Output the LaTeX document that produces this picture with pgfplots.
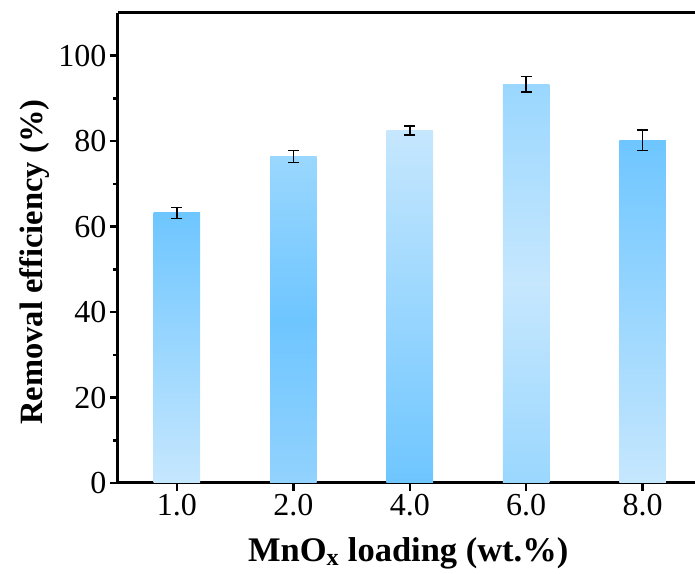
\documentclass[border=0pt]{standalone}
\usepackage{fontspec}
\setmainfont{Liberation Serif}
\usepackage{pgfplots}
\pgfplotsset{compat=1.18}
\definecolor{cdark}{HTML}{6EC6FF}
\definecolor{clight}{HTML}{C6E7FE}
\definecolor{cmed}{HTML}{9AD7FE}
\definecolor{cmed2}{HTML}{92D2FE}
\begin{document}
\begin{tikzpicture}
\begin{axis}[
  scale only axis,
  width=577pt, height=470pt,
  xmin=-0.506, xmax=4.45,
  ymin=0, ymax=110,
  axis x line*=bottom, axis y line*=left,
  axis line style={-, line width=3pt},
  xtick={0,1,2,3,4},
  xticklabels={1.0,2.0,4.0,6.0,8.0},
  ytick={0,20,40,60,80,100},
  minor y tick num=1,
  tick align=outside,
  major tick length=8pt, minor tick length=5pt,
  tick style={line width=2.5pt, black},
  /pgf/number format/assume math mode=true,
  tick label style={font=\fontsize{32}{38}\selectfont},
  xlabel={MnO\textsubscript{x} loading (wt.\%)},
  ylabel={Removal efficiency (\%)},
  xlabel style={font=\fontsize{34.5}{40}\selectfont\bfseries, at={(axis description cs:0.503,-0.168)}, anchor=base},
  ylabel style={font=\fontsize{32.5}{40}\selectfont\bfseries, at={(axis description cs:-0.130,0.47)}, anchor=base},
  clip=false,
]
\addplot[ybar, bar width=0.4, bar shift=0pt, draw=none, top color=cdark, bottom color=clight] coordinates {(0,63.2)};
\addplot[ybar, bar width=0.4, bar shift=0pt, draw=none, top color=cmed, bottom color=cmed2, middle color=cdark] coordinates {(1,76.4)};
\addplot[ybar, bar width=0.4, bar shift=0pt, draw=none, top color=clight, bottom color=cdark] coordinates {(2,82.5)};
\addplot[ybar, bar width=0.4, bar shift=0pt, draw=none, top color=cmed, bottom color=cmed, middle color=clight] coordinates {(3,93.3)};
\addplot[ybar, bar width=0.4, bar shift=0pt, draw=none, top color=cdark, bottom color=clight] coordinates {(4,80.2)};
\addplot[draw=none, mark=none,
  error bars/.cd, y dir=both, y explicit,
  error bar style={black, line width=1.6pt},
  error mark options={rotate=90, black, line width=1.6pt, mark size=5.5pt}]
  table[x=x, y=y, y error=e] {
x y e
0 63.2 1.3
1 76.4 1.4
2 82.5 1.1
3 93.3 1.85
4 80.2 2.4
};
\draw[line width=3pt] (rel axis cs:0,1) -- (rel axis cs:1,1);
\coordinate (BL) at (rel axis cs:0,0);
\coordinate (TR) at (rel axis cs:1,1);
\end{axis}
\pgfresetboundingbox
\path ([shift={(-118pt,-91pt)}]BL) rectangle ([shift={(0pt,13pt)}]TR);
\end{tikzpicture}
\end{document}
